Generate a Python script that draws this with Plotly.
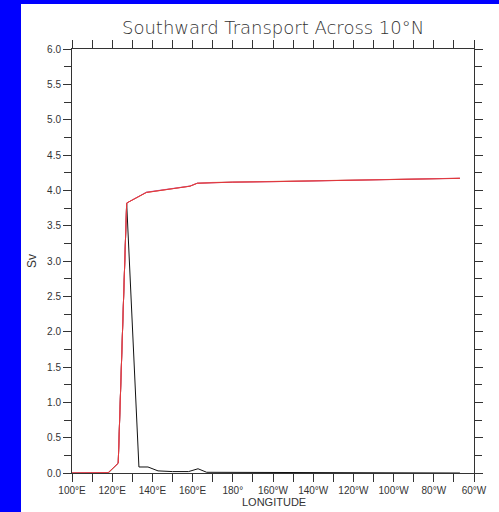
import plotly.graph_objects as go

# Longitude in degrees east (100E .. 300E == 60W)
lon_local = [100, 104, 108, 112, 116, 118, 123, 127.2, 133.3, 137.8, 142.8, 150, 158,
             162.7, 167, 175, 200, 230, 260, 280, 293]
transport_local = [0, 0, 0, 0, 0, 0, 0.14, 3.82, 0.085, 0.085, 0.03, 0.02, 0.02,
                   0.06, 0.01, 0.01, 0.005, 0.01, 0.005, 0.01, 0.0]

lon_cum = [100, 104, 108, 112, 116, 118, 123, 127.2, 137, 150, 158.7, 162.3, 170,
           180, 200, 220, 240, 260, 280, 293]
cum_lavender = [0, 0, 0, 0, 0, 0, 0.14, 3.82, 3.975, 4.025, 4.062, 4.102, 4.112,
                4.118, 4.125, 4.136, 4.147, 4.156, 4.163, 4.17]
cum_orange = [0, 0, 0, 0, 0, 0, 0.14, 3.82, 3.968, 4.02, 4.06, 4.1, 4.112,
              4.117, 4.126, 4.137, 4.148, 4.158, 4.168, 4.171]
cum_magenta = [0, 0, 0, 0, 0, 0.005, 0.14, 3.82, 3.972, 4.021, 4.059, 4.101, 4.109,
               4.115, 4.122, 4.134, 4.146, 4.155, 4.168, 4.172]
cum_red = [0, 0, 0, 0, 0, 0.005, 0.14, 3.82, 3.97, 4.022, 4.058, 4.1, 4.11,
           4.116, 4.123, 4.135, 4.145, 4.157, 4.165, 4.169]

x_tickvals = [100, 120, 140, 160, 180, 200, 220, 240, 260, 280, 300]
x_ticktext = ["100°E", "120°E", "140°E", "160°E", "180°", "160°W", "140°W",
              "120°W", "100°W", "80°W", "60°W"]

fig = go.Figure()

fig.add_trace(go.Scatter(x=lon_local, y=transport_local, mode="lines",
                         line=dict(color="#111111", width=1)))
for vals, col in [(cum_lavender, "#b8a8e8"), (cum_orange, "#f0a060"),
                  (cum_magenta, "#e0508f"), (cum_red, "#e03838")]:
    fig.add_trace(go.Scatter(x=lon_cum, y=vals, mode="lines",
                             line=dict(color=col, width=1)))

axis_common = dict(
    showline=True, linecolor="#333333", linewidth=1,
    ticks="outside", ticklen=8, tickcolor="#333333", tickwidth=1,
    mirror="ticks", showgrid=False, zeroline=False,
    tickfont=dict(family="Liberation Sans, Arial, sans-serif", size=10, color="#333333"),
)

fig.update_xaxes(range=[100, 300], tickvals=x_tickvals, ticktext=x_ticktext,
                 minor=dict(dtick=10, tick0=100, ticks="outside", ticklen=8,
                            tickcolor="#333333", tickwidth=1),
                 **axis_common)
fig.update_yaxes(range=[0, 6], tick0=0, dtick=0.5, tickformat=".1f",
                 minor=dict(dtick=0.25, tick0=0, ticks="outside", ticklen=7,
                            tickcolor="#333333", tickwidth=1),
                 **axis_common)

fig.update_layout(
    width=499, height=512,
    margin=dict(l=72, r=25, t=49, b=39),
    paper_bgcolor="#0000ff", plot_bgcolor="white",
    showlegend=False,
    shapes=[dict(type="rect", xref="paper", yref="paper", layer="below",
                 x0=(21 - 72) / 402, x1=(520 - 72) / 402,
                 y0=(473 - 540) / 424, y1=(473 - 4) / 424,
                 fillcolor="white", line=dict(width=0))],
    annotations=[
        dict(text="Southward Transport Across 10°N", xref="paper", yref="paper",
             x=0.5, y=(473 - 27) / 424, showarrow=False, xanchor="center",
             yanchor="middle",
             font=dict(family="DejaVu Sans, Liberation Sans, sans-serif", size=18,
                       color="#333333", weight=300)),
        dict(text="LONGITUDE", xref="paper", yref="paper",
             x=(274 - 72) / 402, y=(473 - 502) / 424, showarrow=False,
             xanchor="center", yanchor="middle",
             font=dict(family="Liberation Sans, Arial, sans-serif", size=11,
                       color="#333333")),
        dict(text="Sv", xref="paper", yref="paper",
             x=(32 - 72) / 402, y=(473 - 261) / 424, showarrow=False,
             xanchor="center", yanchor="middle", textangle=-90,
             font=dict(family="Liberation Sans, Arial, sans-serif", size=12,
                       color="#333333")),
    ],
)

fig.write_html("out.html")
